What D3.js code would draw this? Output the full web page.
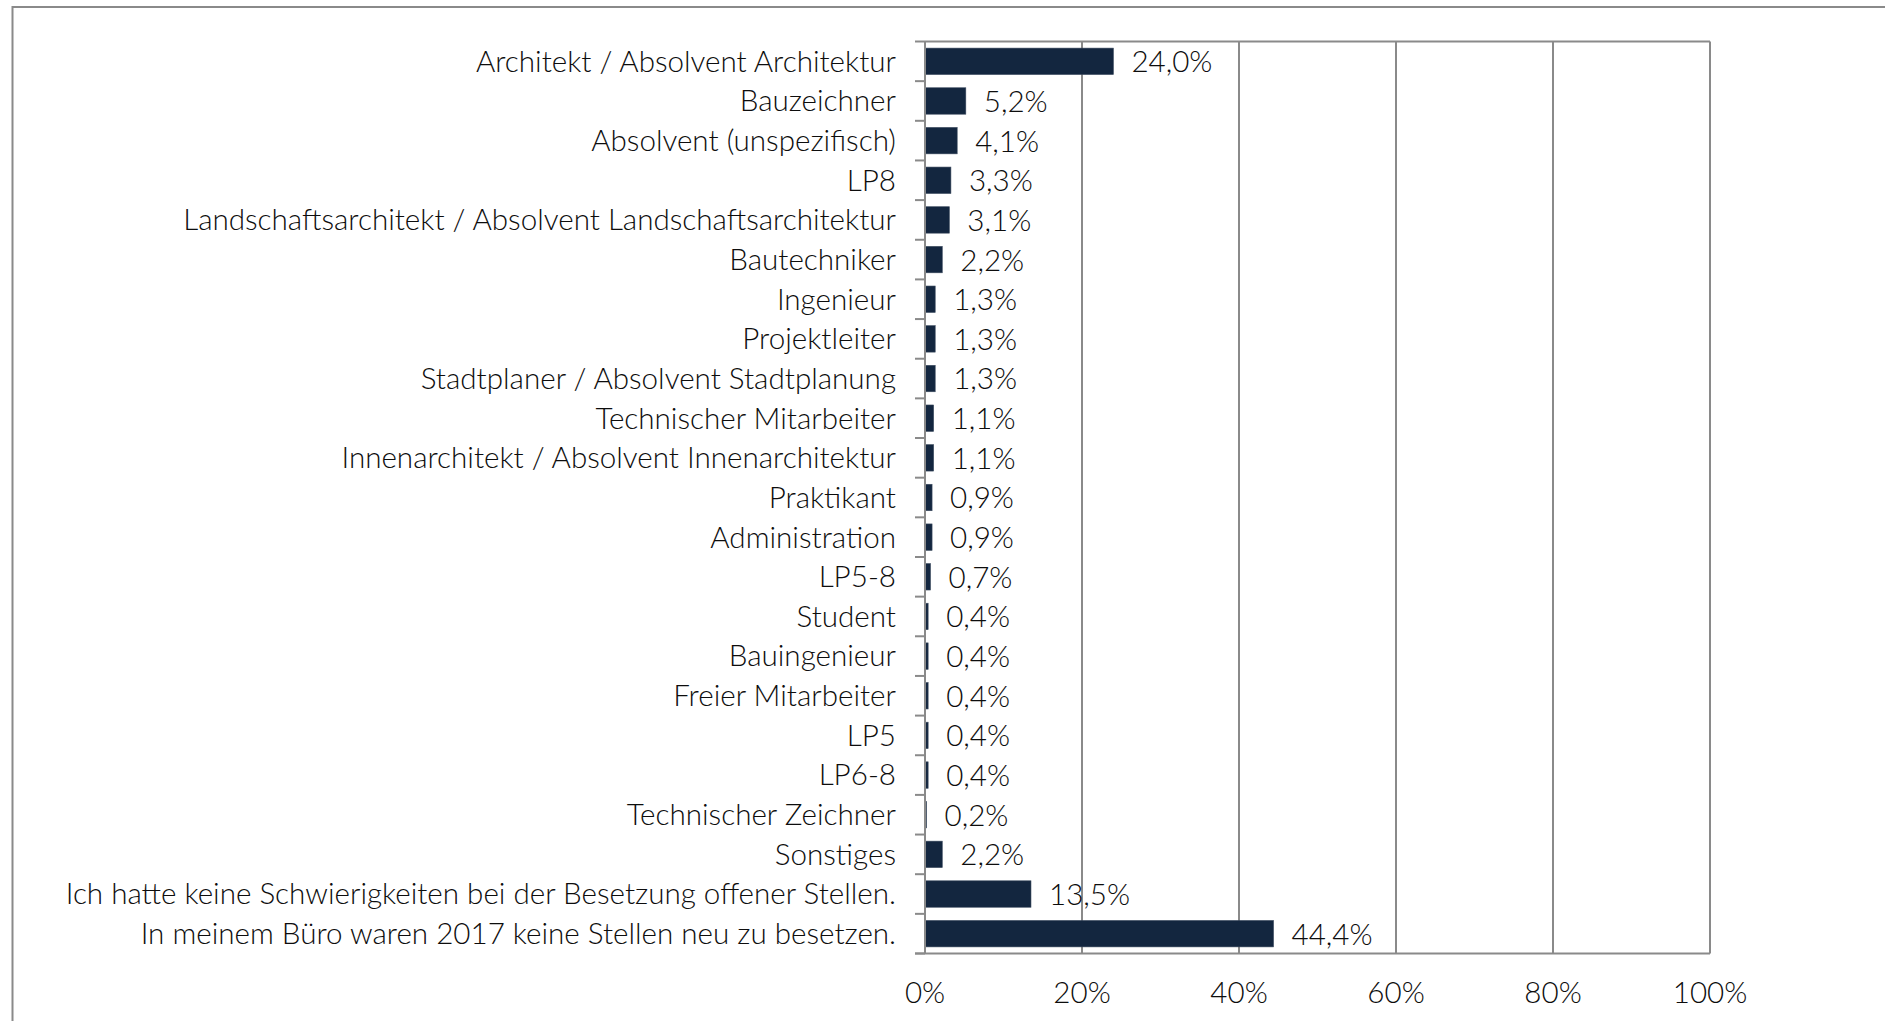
<!DOCTYPE html>
<html>
<head>
<meta charset="utf-8">
<script src="https://cdn.jsdelivr.net/npm/d3@7"></script>
<style>
  html, body { margin: 0; padding: 0; background: #fff; }
  svg { display: block; }
  text { font-family: Lato, "Open Sans", sans-serif; font-weight: 300; fill: #0d0d0d; }
</style>
</head>
<body>
<svg id="chart" width="1885" height="1021"></svg>
<script>
// Positions to fill in 2017, share of offices naming each profile (percent)
const categories = [
  "Architekt / Absolvent Architektur",
  "Bauzeichner",
  "Absolvent (unspezifisch)",
  "LP8",
  "Landschaftsarchitekt / Absolvent Landschaftsarchitektur",
  "Bautechniker",
  "Ingenieur",
  "Projektleiter",
  "Stadtplaner / Absolvent Stadtplanung",
  "Technischer Mitarbeiter",
  "Innenarchitekt / Absolvent Innenarchitektur",
  "Praktikant",
  "Administration",
  "LP5-8",
  "Student",
  "Bauingenieur",
  "Freier Mitarbeiter",
  "LP5",
  "LP6-8",
  "Technischer Zeichner",
  "Sonstiges",
  "Ich hatte keine Schwierigkeiten bei der Besetzung offener Stellen.",
  "In meinem Büro waren 2017 keine Stellen neu zu besetzen."
];
const values = [24.0, 5.2, 4.1, 3.3, 3.1, 2.2, 1.3, 1.3, 1.3, 1.1, 1.1, 0.9, 0.9, 0.7,
                0.4, 0.4, 0.4, 0.4, 0.4, 0.2, 2.2, 13.5, 44.4];
const tickValues = [0, 20, 40, 60, 80, 100];

const svg = d3.select("#chart");
const plot = { left: 925, right: 1710, top: 41.5, bottom: 953.5 };
const fontSize = 29.6;
const gridColor = "#8a8a8a";
const barColor = "#13263f";

// Outer chart frame (runs off the right and bottom edges)
svg.append("path")
  .attr("d", "M12.5,1021 L12.5,7 L1885,7")
  .attr("fill", "none").attr("stroke", gridColor).attr("stroke-width", 2);

const x = d3.scaleLinear().domain([0, 100]).range([plot.left, plot.right]);
const y = d3.scaleBand().domain(categories).range([plot.top, plot.bottom])
  .paddingInner(1 / 3).paddingOuter(1 / 6);

// Vertical gridlines (including the right frame edge)
svg.append("g").selectAll("line").data(tickValues.slice(1)).join("line")
  .attr("x1", d => x(d)).attr("x2", d => x(d))
  .attr("y1", plot.top).attr("y2", plot.bottom)
  .attr("stroke", gridColor).attr("stroke-width", 2);
// Top frame edge
svg.append("line")
  .attr("x1", plot.left).attr("x2", plot.right)
  .attr("y1", plot.top).attr("y2", plot.top)
  .attr("stroke", gridColor).attr("stroke-width", 2);

// Bars
svg.append("g").selectAll("rect").data(values).join("rect")
  .attr("x", x(0))
  .attr("y", (d, i) => y(categories[i]))
  .attr("width", d => x(d) - x(0))
  .attr("height", y.bandwidth())
  .attr("fill", barColor)
  .attr("stroke", "#3b4a5e").attr("stroke-width", 0.6);

// Category axis: ticks sit on band boundaries
const boundaries = categories.map(c => y(c) - y.step() * y.paddingInner() / 2);
boundaries.push(plot.bottom);
const catAxis = svg.append("g");
catAxis.append("line")
  .attr("x1", plot.left).attr("x2", plot.left)
  .attr("y1", plot.top).attr("y2", plot.bottom)
  .attr("stroke", gridColor).attr("stroke-width", 2);
catAxis.selectAll("line.tick").data(boundaries).join("line").attr("class", "tick")
  .attr("x1", plot.left - 10).attr("x2", plot.left)
  .attr("y1", d => d).attr("y2", d => d)
  .attr("stroke", gridColor).attr("stroke-width", 2);
catAxis.selectAll("text").data(categories).join("text")
  .attr("x", plot.left - 29)
  .attr("y", d => y(d) + y.bandwidth() / 2)
  .attr("dy", "0.35em")
  .attr("text-anchor", "end")
  .attr("font-size", fontSize)
  .text(d => d);

// Value axis along the bottom
svg.append("line")
  .attr("x1", plot.left - 10).attr("x2", plot.right)
  .attr("y1", plot.bottom).attr("y2", plot.bottom)
  .attr("stroke", gridColor).attr("stroke-width", 2);
svg.append("g").selectAll("text").data(tickValues).join("text")
  .attr("x", d => x(d))
  .attr("y", 1003)
  .attr("text-anchor", "middle")
  .attr("font-size", fontSize)
  .text(d => d + "%");

// Value labels
const fmt = v => v.toFixed(1).replace(".", ",") + "%";
svg.append("g").selectAll("text").data(values).join("text")
  .attr("x", d => x(d) + 18)
  .attr("y", (d, i) => y(categories[i]) + y.bandwidth() / 2)
  .attr("dy", "0.37em")
  .attr("font-size", fontSize)
  .text(d => fmt(d));
</script>
</body>
</html>
